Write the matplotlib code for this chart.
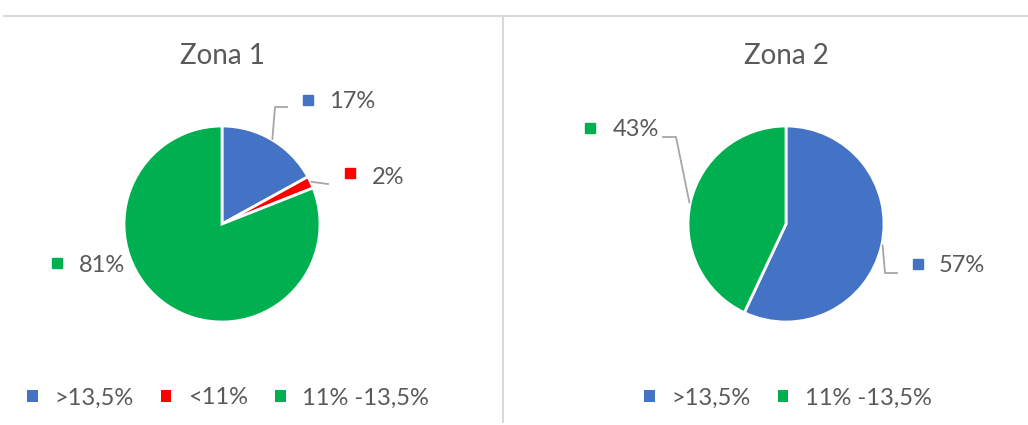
import numpy as np
import matplotlib.pyplot as plt
from matplotlib.lines import Line2D
from matplotlib.patches import Patch

plt.rcParams['font.family'] = ['Lato', 'DejaVu Sans']

# data
zona1_labels = [">13,5%", "<11%", "11% -13,5%"]
zona1_values = [17, 2, 81]
zona1_colors = ["#4472C4", "#FF0000", "#00B050"]

zona2_labels = [">13,5%", "11% -13,5%"]
zona2_values = [57, 43]
zona2_colors = ["#4472C4", "#00B050"]

W, H = 1028, 425
txt = "#595959"
grid = "#D9D9D9"
lead = "#A6A6A6"
PX = 98.0  # pixels per data unit (pie radius)

fig = plt.figure(figsize=(W / 100, H / 100), dpi=100)
fig.patch.set_facecolor("white")

# frame lines
fig.add_artist(Line2D([4 / W, 1], [1 - 15.5 / H, 1 - 15.5 / H], color=grid, lw=1.5))
fig.add_artist(Line2D([503 / W, 503 / W], [1 - 16 / H, 1 - 422 / H], color=grid, lw=1.5))


def make_pie(cx, cy, title, values, colors, labels, label_pos, leaders, legend_x):
    size = 3 * PX
    ax = fig.add_axes([(cx - size / 2) / W, (H - cy - size / 2) / H, size / W, size / H])
    wedges, _ = ax.pie(values, colors=colors, startangle=90, counterclock=False, radius=1,
                       wedgeprops=dict(edgecolor="white", linewidth=2))
    ax.set_xlim(-1.5, 1.5)
    ax.set_ylim(-1.5, 1.5)
    ax.set_aspect("equal")
    ax.axis("off")
    for i, w in enumerate(wedges):
        sq, tx = label_pos[i]
        ax.plot(sq[0] / PX, sq[1] / PX, marker="s", ms=6.5, color=colors[i],
                clip_on=False, linestyle="none")
        ax.text(tx[0] / PX, tx[1] / PX, f"{values[i]}%", fontsize=17, color=txt,
                ha="left", va="center", clip_on=False)
        if leaders[i] is not None:
            ang = np.deg2rad((w.theta1 + w.theta2) / 2)
            xs = [np.cos(ang) * 1.01] + [p[0] / PX for p in leaders[i]]
            ys = [np.sin(ang) * 1.01] + [p[1] / PX for p in leaders[i]]
            ax.plot(xs, ys, color=lead, lw=1.3, clip_on=False)
    fig.text(cx / W, 1 - 55.5 / H, title, fontsize=20, color=txt, ha="center", va="center")
    handles = [Patch(facecolor=c, edgecolor="none") for c in colors]
    fig.legend(handles, labels, loc="center", bbox_to_anchor=(legend_x / W, 1 - 398 / H),
               ncol=len(labels), frameon=False, fontsize=17, labelcolor=txt,
               handlelength=0.45, handleheight=0.45, handletextpad=0.7, columnspacing=1.15)


make_pie(222, 224, "Zona 1", zona1_values, zona1_colors, zona1_labels,
         [((86, 124), (107, 122)), ((128, 51), (150, 47)), ((-165, -39), (-143, -42))],
         [[(53, 117), (65, 117)], [(106, 40)], None], 228)

make_pie(786, 224, "Zona 2", zona2_values, zona2_colors, zona2_labels,
         [((132, -40), (153, -41)), ((-196, 96), (-173, 94))],
         [[(99, -49), (111, -49)], [(-110, 87), (-123, 87)]], 788)

fig.savefig("out.png", dpi=100, facecolor="white")
